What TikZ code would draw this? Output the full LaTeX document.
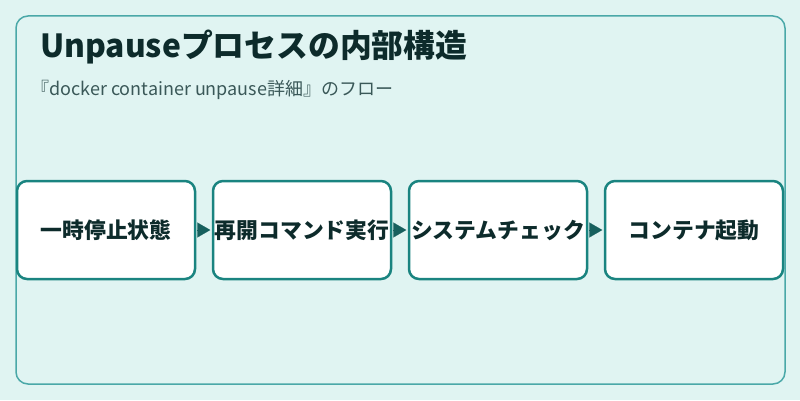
\documentclass[tikz,border=0pt]{standalone}
\usepackage{fontspec}
\setmainfont{Noto Sans CJK JP}
\usetikzlibrary{arrows.meta}
\definecolor{bgc}{HTML}{E0F4F2}
\definecolor{framec}{HTML}{4AA8A8}
\definecolor{boxc}{HTML}{1A8480}
\definecolor{arrc}{HTML}{17605E}
\definecolor{titlec}{HTML}{0D2B2B}
\definecolor{subc}{HTML}{3A5858}
\tikzset{
  stepbox/.style={draw=boxc, line width=2.5pt, fill=white, rounded corners=10pt,
    minimum width=178pt, minimum height=98pt, inner sep=0pt,
    font=\fontsize{21.8}{26}\selectfont\bfseries, text=titlec},
  flowarrow/.style={draw=arrc, line width=0.1pt, -{Triangle[length=13pt,width=15pt]}, fill=arrc,
    shorten <=2.5pt, shorten >=1.5pt}
}
\begin{document}
\begin{tikzpicture}[x=1pt,y=1pt]
\useasboundingbox (0,0) rectangle (800,400);
\fill[bgc] (0,0) rectangle (800,400);
\draw[framec, line width=1.5pt, rounded corners=12pt] (16,16) rectangle (785,384);
\node[anchor=base west, text=titlec, font=\fontsize{31.8}{36}\selectfont\bfseries, inner sep=0pt] (title) at (40,343) {Unpauseプロセスの内部構造};
\node[anchor=base west, text=subc, font=\fontsize{18}{22}\selectfont, inner sep=0pt] (sub) at (31,305) {『docker container unpause詳細』のフロー};
\node[stepbox] (s1) at (106,170) {一時停止状態};
\node[stepbox] (s2) at (302,170) {再開コマンド実行};
\node[stepbox] (s3) at (498,170) {システムチェック};
\node[stepbox] (s4) at (694,170) {コンテナ起動};
\draw[flowarrow] (s1.east) -- (s2.west);
\draw[flowarrow] (s2.east) -- (s3.west);
\draw[flowarrow] (s3.east) -- (s4.west);
\end{tikzpicture}
\end{document}
